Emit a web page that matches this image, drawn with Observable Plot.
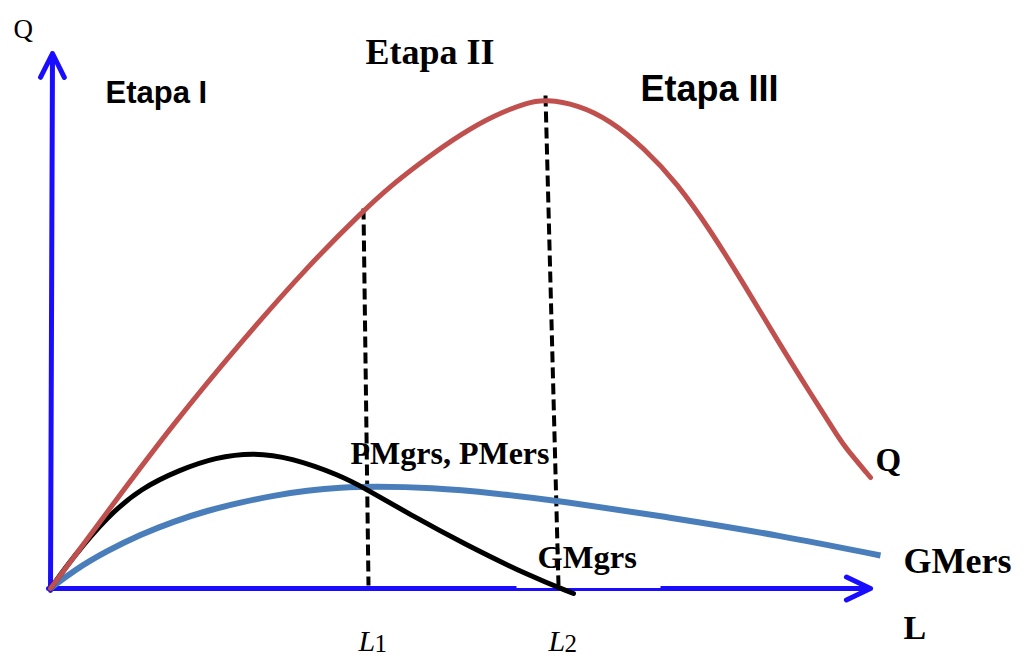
<!DOCTYPE html>
<html>
<head>
<meta charset="utf-8">
<script src="https://cdn.jsdelivr.net/npm/d3@7"></script>
<script src="https://cdn.jsdelivr.net/npm/@observablehq/plot@0.6"></script>
<style>
  html, body { margin: 0; padding: 0; background: #ffffff; }
  #chart svg { display: block; }
</style>
</head>
<body>
<div id="chart"></div>
<script>
// Total product curve Q (labour L on x, output on y; units)
const qL   = [0, 57, 123, 190, 257, 313, 343, 377, 410, 443, 477, 495, 527, 560, 593, 627, 660, 693, 727, 760, 790, 795, 820];
const qVal = [0, 77, 165, 246, 322, 378, 405, 431, 454, 473, 486, 489, 484, 468, 441, 405, 358, 305, 248, 195, 148, 141, 111];

// Marginal product (black, "PMgrs")
const pmgL   = [0, 23, 57, 90, 130, 165, 202, 240, 290, 313, 363, 413, 480, 523];
const pmgVal = [0, 32, 72, 100, 119, 131, 136, 131, 113, 101, 72, 45, 12, -5];

// Average product (blue, "PMers")
const pmeL   = [0, 23, 57, 90, 123, 157, 190, 223, 257, 290, 323, 380, 447, 507, 620, 730, 830];
const pmeVal = [0, 18, 38, 54, 67, 78, 86, 93, 98, 101, 102, 101, 95, 88, 71, 53, 33];

// Stage boundaries L1, L2
const boundaryNames = ["L1", "L2"];
const boundaryTopL  = [313, 495];
const boundaryTopQ  = [380, 493];
const boundaryBotL  = [318, 508];
const boundaryBotQ  = [3, 3];

const stageLabels = ["Etapa I", "Etapa II", "Etapa III"];

const zipXY = (xs, ys) => xs.map((x, i) => ({x, y: ys[i]}));
const qData = zipXY(qL, qVal);
const pmgData = zipXY(pmgL, pmgVal);
const pmeData = zipXY(pmeL, pmeVal);
const boundaries = boundaryNames.map((n, i) => ({
  name: n, x1: boundaryTopL[i], y1: boundaryTopQ[i], x2: boundaryBotL[i], y2: boundaryBotQ[i]
}));

const AXIS = "#1a0dff";
const SANS = "'Liberation Sans', Arial, sans-serif";
const SERIF = "'Liberation Serif', 'Times New Roman', serif";

const chart = Plot.plot({
  width: 1029,
  height: 655,
  margin: 0,
  style: {background: "#ffffff"},
  x: {domain: [-50, 979], axis: null},
  y: {domain: [-67, 588], axis: null},
  marks: [
    // axes with arrowheads
    Plot.arrow([{x1: 0, y1: -2, x2: 2, y2: 535}], {x1: "x1", y1: "y1", x2: "x2", y2: "y2",
      stroke: AXIS, strokeWidth: 5, headLength: 8, headAngle: 53, strokeLinecap: "round", strokeLinejoin: "round"}),
    Plot.arrow([{x1: -2, y1: 0, x2: 820, y2: 0}], {x1: "x1", y1: "y1", x2: "x2", y2: "y2",
      stroke: AXIS, strokeWidth: 5, headLength: 8, headAngle: 51, strokeLinecap: "round", strokeLinejoin: "round"}),
    // thin section of the horizontal axis
    Plot.link([{x1: 466, x2: 610, y: 1.8}], {x1: "x1", x2: "x2", y1: "y", y2: "y", stroke: "#ffffff", strokeWidth: 2.6}),
    // dashed stage boundaries
    Plot.link(boundaries, {x1: "x1", y1: "y1", x2: "x2", y2: "y2",
      stroke: "#000000", strokeWidth: 4, strokeDasharray: "11,5"}),
    // curves
    Plot.line(pmeData, {x: "x", y: "y", stroke: "#4a7ebb", strokeWidth: 6, curve: "basis", strokeLinecap: "butt"}),
    Plot.line(pmgData, {x: "x", y: "y", stroke: "#000000", strokeWidth: 5, curve: "basis", strokeLinecap: "round"}),
    Plot.line(qData, {x: "x", y: "y", stroke: "#c0504d", strokeWidth: 5, curve: "basis", strokeLinecap: "round"}),
    // axis titles
    Plot.text(["Q"], {x: -37, y: 551, text: d => d, textAnchor: "start", lineAnchor: "bottom",
      fontFamily: SERIF, fontSize: 27, fill: "#000"}),
    // stage labels
    Plot.text([stageLabels[0]], {x: 55, y: 486, text: d => d, textAnchor: "start", lineAnchor: "bottom",
      fontFamily: SANS, fontWeight: "bold", fontSize: 31, fill: "#000"}),
    Plot.text([stageLabels[1]], {x: 315, y: 525, text: d => d, textAnchor: "start", lineAnchor: "bottom",
      fontFamily: SERIF, fontWeight: "bold", fontSize: 36, fill: "#000"}),
    Plot.text([stageLabels[2]], {x: 590, y: 488, text: d => d, textAnchor: "start", lineAnchor: "bottom",
      fontFamily: SANS, fontWeight: "bold", fontSize: 36, fill: "#000"}),
    // curve labels
    Plot.text(["PMgrs, PMers"], {x: 300, y: 125, text: d => d, textAnchor: "start", lineAnchor: "bottom",
      fontFamily: SERIF, fontWeight: "bold", fontSize: 32, fill: "#000"}),
    Plot.text(["GMgrs"], {x: 487, y: 21, text: d => d, textAnchor: "start", lineAnchor: "bottom",
      fontFamily: SERIF, fontWeight: "bold", fontSize: 32.5, fill: "#000"}),
    Plot.text(["Q"], {x: 825, y: 118, text: d => d, textAnchor: "start", lineAnchor: "bottom",
      fontFamily: SERIF, fontWeight: "bold", fontSize: 33, fill: "#000"}),
    Plot.text(["GMers"], {x: 853, y: 16, text: d => d, textAnchor: "start", lineAnchor: "bottom",
      fontFamily: SERIF, fontWeight: "bold", fontSize: 36, fill: "#000"}),
    Plot.text(["L"], {x: 853, y: -50, text: d => d, textAnchor: "start", lineAnchor: "bottom",
      fontFamily: SERIF, fontWeight: "bold", fontSize: 34, fill: "#000"}),
    // L1, L2 tick labels
    Plot.text(boundaries, {x: d => d.x2 - 10, y: -62, text: () => "L", textAnchor: "start", lineAnchor: "bottom",
      fontFamily: SERIF, fontStyle: "italic", fontSize: 30, fill: "#000"}),
    Plot.text(boundaries, {x: d => d.x2 + 6, y: -63, text: d => d.name.slice(1), textAnchor: "start", lineAnchor: "bottom",
      fontFamily: SERIF, fontSize: 25, fill: "#000"})
  ]
});
document.getElementById("chart").appendChild(chart);
</script>
</body>
</html>
